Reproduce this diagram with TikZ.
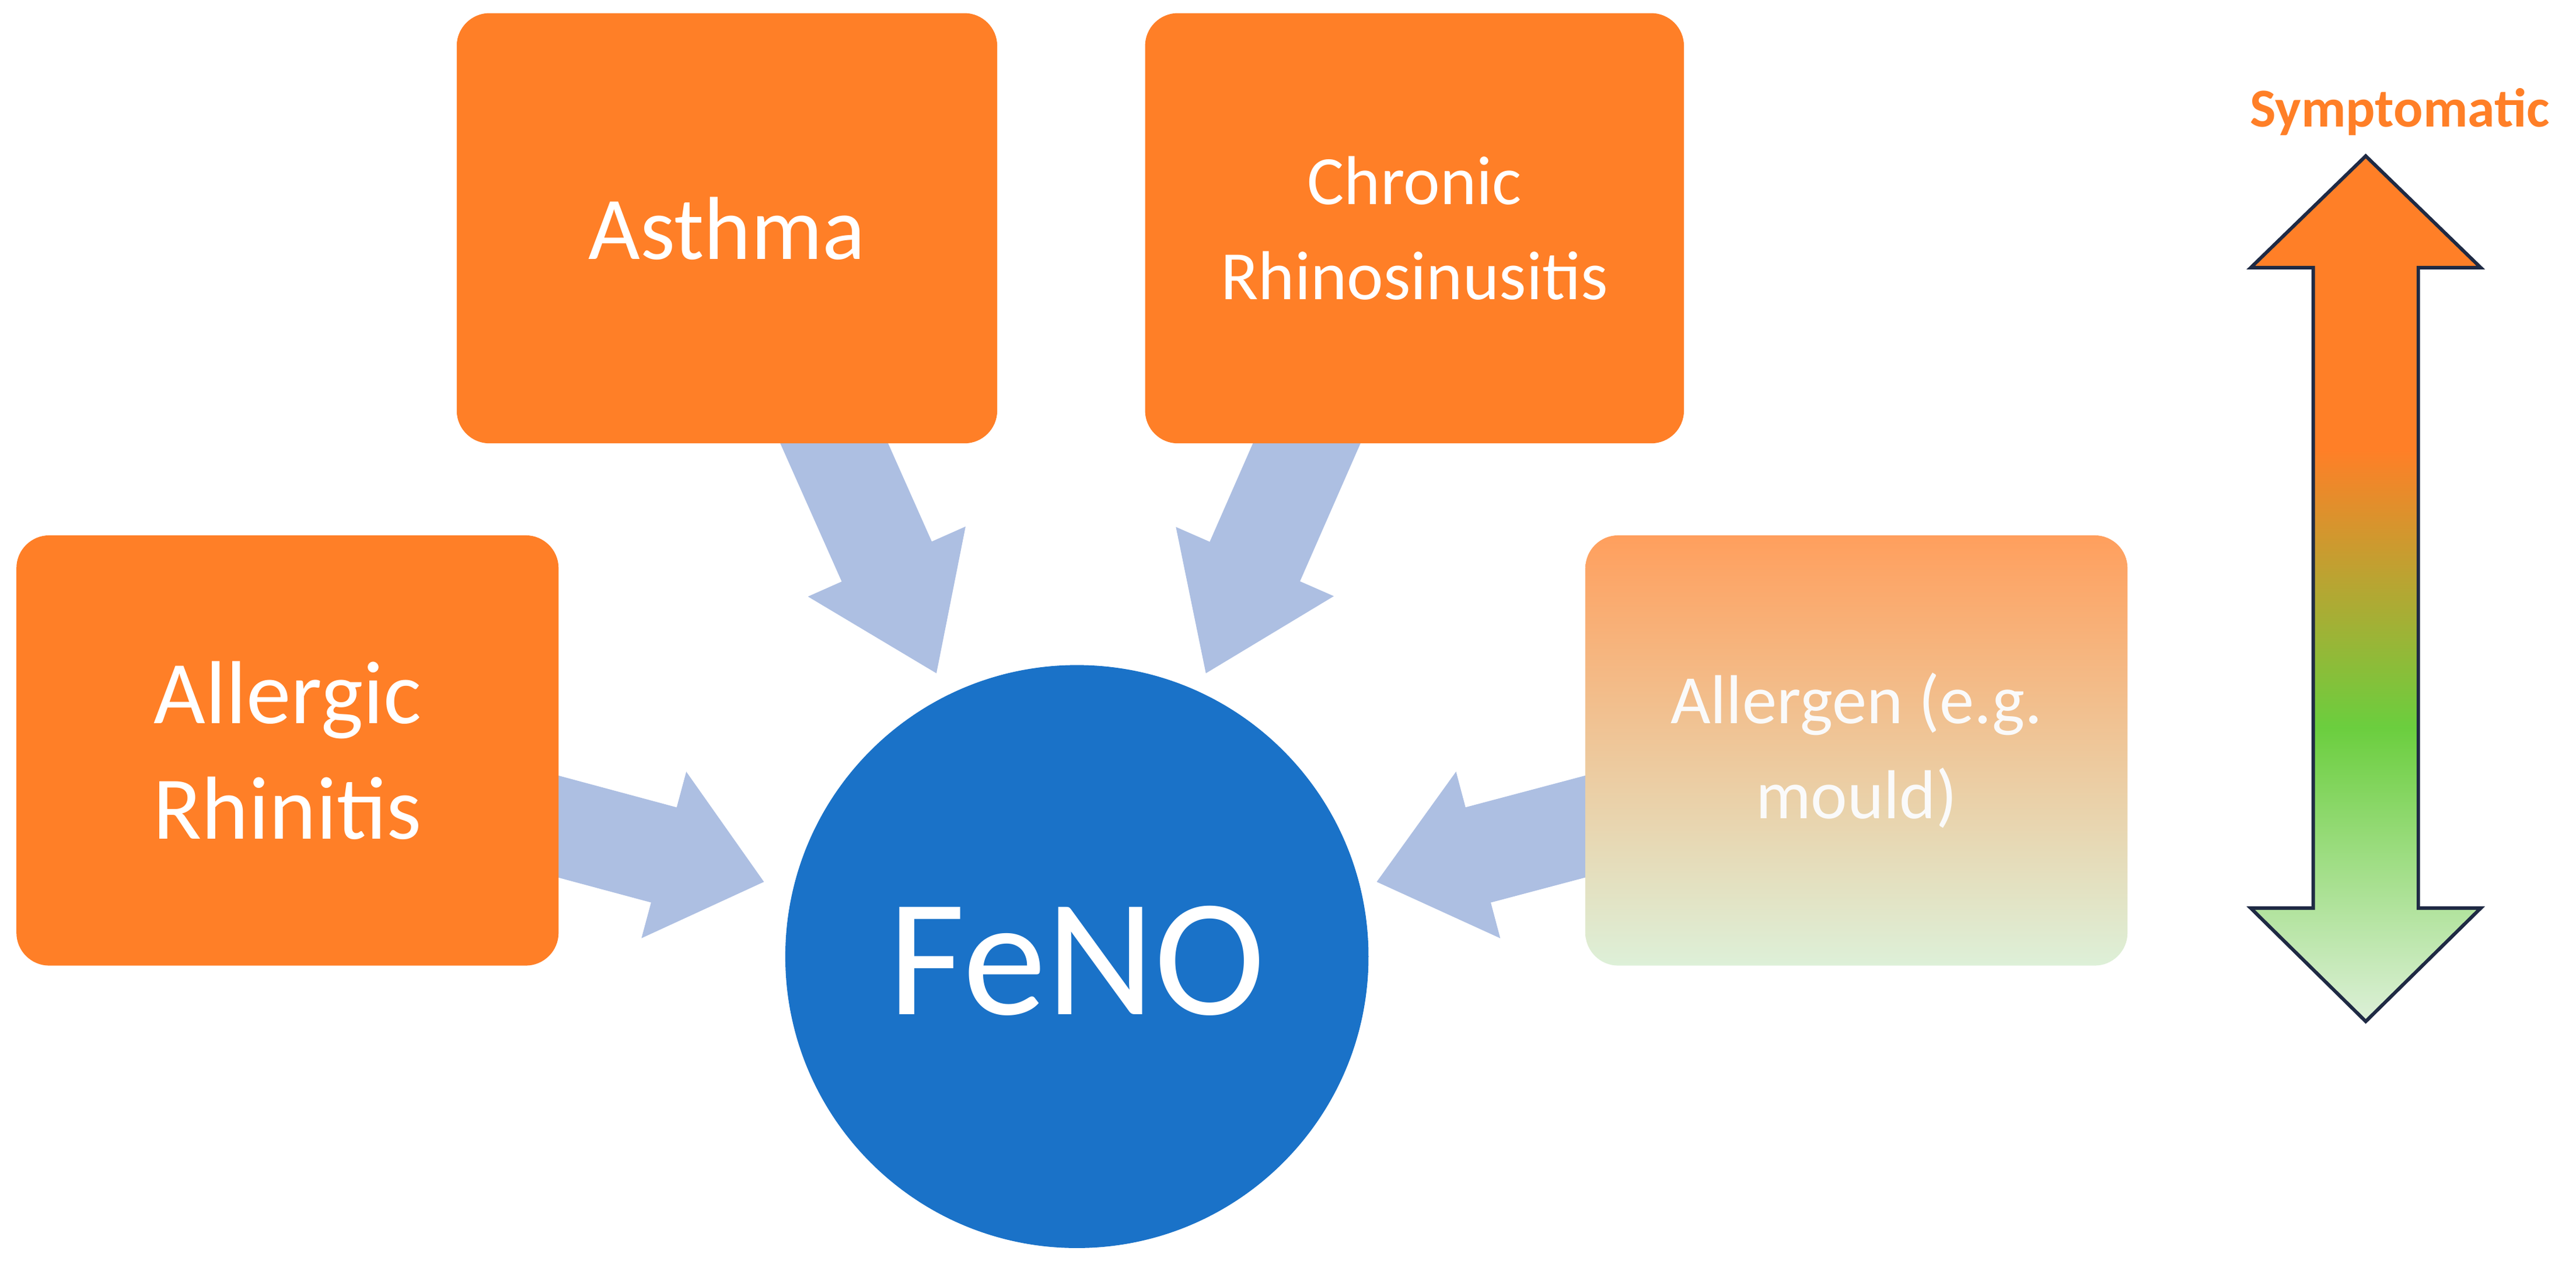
\documentclass[tikz,border=0pt]{standalone}
\usepackage{fontspec}
\setmainfont{Carlito}
\usetikzlibrary{calc}
\definecolor{org}{HTML}{FF7F27}
\definecolor{blu}{HTML}{1A72C8}
\definecolor{arr}{HTML}{ADBFE2}
\definecolor{lgr}{HTML}{DDF0D8}
\definecolor{grn}{HTML}{6BCE3E}
\definecolor{nav}{HTML}{1F2A44}
\pgfdeclareverticalshading{symp}{100bp}{color(0bp)=(lgr); color(25bp)=(lgr); color(42bp)=(grn); color(58bp)=(org); color(75bp)=(org); color(100bp)=(org)}
\tikzset{
 box/.style={fill=org, rounded corners=0.4cm, draw=none},
 txt/.style={text=white, align=center, font=\fontsize{31}{37}\selectfont},
}
\newcommand\blockarrow[2]{%
 \fill[arr] ($(#1)!0.6cm!90:(#2)$) -- ($($(#1)!0.58!(#2)$)!0.6cm!90:(#2)$) -- ($($(#1)!0.58!(#2)$)!1.05cm!90:(#2)$) -- (#2)
 -- ($($(#1)!0.58!(#2)$)!1.05cm!-90:(#2)$) -- ($($(#1)!0.58!(#2)$)!0.6cm!-90:(#2)$) -- ($(#1)!0.6cm!-90:(#2)$) -- cycle;}
\begin{document}
\begin{tikzpicture}[x=0.02cm,y=-0.02cm]
\useasboundingbox (0,0) rectangle (1568,770);
% arrows (drawn under the boxes)
\coordinate (a1) at (320,498); \coordinate (b1) at (465,537);
\coordinate (a2) at (498,248); \coordinate (b2) at (570,410);
\coordinate (a3) at (805,248); \coordinate (b3) at (734,410);
\coordinate (a4) at (985,498); \coordinate (b4) at (838,537);
\blockarrow{a1}{b1}
\blockarrow{a2}{b2}
\blockarrow{a3}{b3}
\blockarrow{a4}{b4}
% boxes
\fill[box] (278,8) rectangle (607,270);
\node[txt] (asthma) at (442.5,139) {Asthma};
\fill[box] (697,8) rectangle (1025,270);
\node[txt,font=\fontsize{24}{33}\selectfont] (crs) at (861,139) {Chronic\\Rhinosinusitis};
\fill[box] (10,326) rectangle (340,588);
\node[txt,font=\fontsize{31}{40}\selectfont] (ar) at (175,457) {Allergic\\Rhinitis};
\shade[top color=org!75!white, middle color=org!35!lgr, bottom color=lgr, rounded corners=0.4cm] (965,326) rectangle (1295,588);
\node[txt,font=\fontsize{24}{33}\selectfont,text=white!96!gray] (alg) at (1130,457) {Allergen (e.g.\\mould)};
% circle
\fill[blu] (655.5,582.5) circle[radius=177.5];
\node[text=white,font=\fontsize{58}{60}\selectfont] (feno) at (655.5,585) {FeNO};
% double arrow
\shade[shading=symp, draw=nav, line width=1.2pt] (1440,95) -- (1510,163) -- (1472,163) -- (1472,553) -- (1510,553) -- (1440,622) -- (1370,553) -- (1408,553) -- (1408,163) -- (1370,163) -- cycle;
\node[text=org, font=\bfseries\fontsize{19}{22}\selectfont, anchor=east] (sym) at (1558,68) {Symptomatic};
\end{tikzpicture}
\end{document}
